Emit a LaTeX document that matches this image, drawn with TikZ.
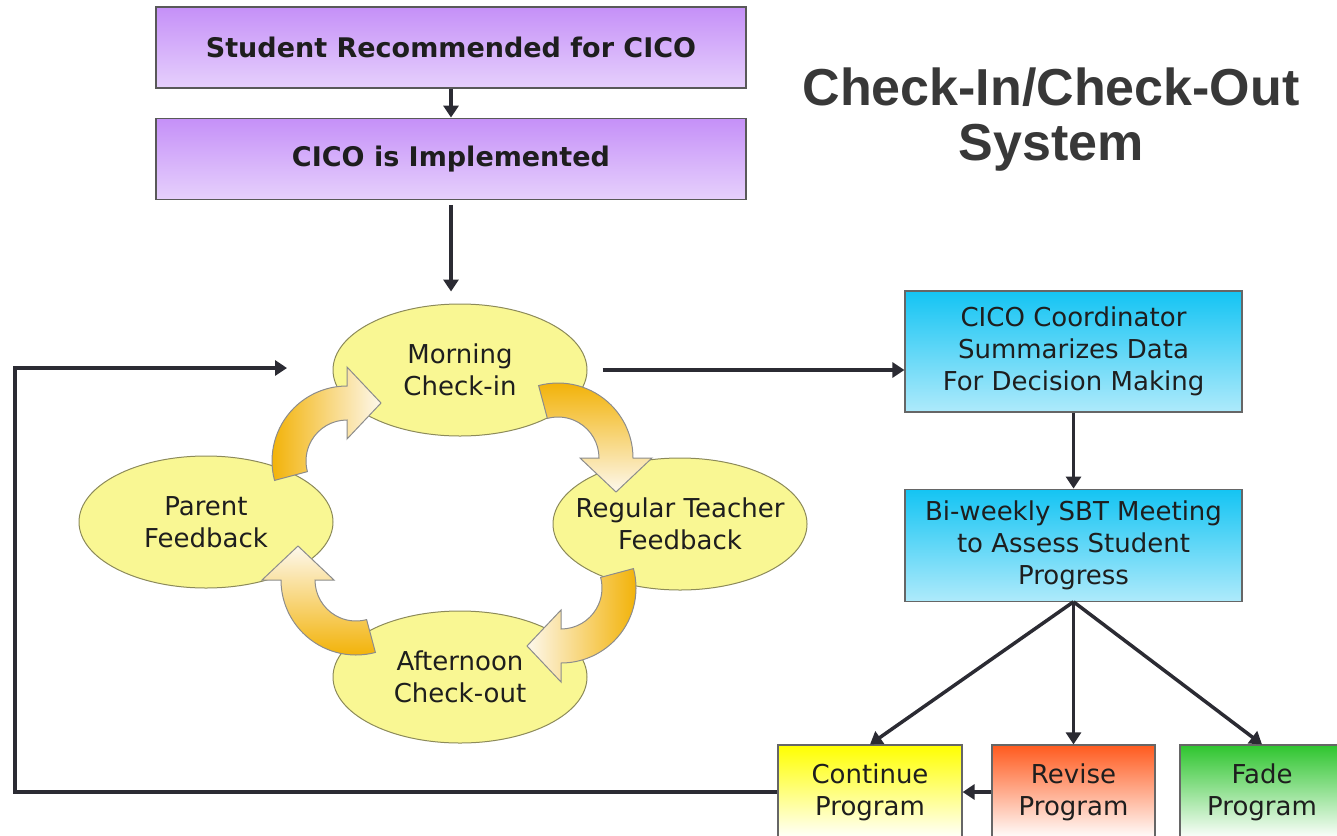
\documentclass[tikz,border=0pt]{standalone}
\usepackage{fontspec}
\setmainfont{DejaVu Sans}
\newfontfamily\titulo{Liberation Sans}
\usetikzlibrary{arrows.meta,shapes.geometric,positioning}
\definecolor{lila}{HTML}{C590F8}
\definecolor{lilaclaro}{HTML}{E6D0FC}
\definecolor{cian}{HTML}{14C4F3}
\definecolor{cianclaro}{HTML}{AEEAFB}
\definecolor{amarillo}{HTML}{F9F793}
\definecolor{olivo}{HTML}{8C8A5A}
\definecolor{naranja}{HTML}{F2B000}
\definecolor{crema}{HTML}{FDF8EC}
\definecolor{oscuro}{HTML}{2B2B33}
\definecolor{rojo}{HTML}{FF5A1E}
\definecolor{verde}{HTML}{2EC52E}
\definecolor{gris}{HTML}{383838}
\definecolor{tinta}{HTML}{1E1E1E}

\begin{document}
\begin{tikzpicture}[x=1pt,y=1pt,>={Triangle[length=12pt,width=15pt]},
  flecha/.style={->,draw=oscuro,line width=3.5pt},
  caja/.style={draw=black!65,line width=1.2pt,minimum width=590pt,minimum height=81pt,
    top color=lila,bottom color=lilaclaro,text=tinta,font=\fontsize{27}{32}\selectfont\bfseries},
  elipse/.style={ellipse,draw=olivo,line width=1pt,fill=amarillo,minimum width=254pt,
    minimum height=132pt,inner xsep=-45pt,inner ysep=0pt,align=center,text=tinta,
    font=\fontsize{26}{32}\selectfont},
  azul/.style={draw=black!60,line width=1.2pt,minimum width=337pt,inner sep=4pt,
    top color=cian,bottom color=cianclaro,align=center,text=tinta,
    font=\fontsize{26}{32}\selectfont},
  fin/.style={draw=black!60,line width=1.2pt,minimum height=94pt,inner sep=4pt,
    align=center,text=tinta,font=\fontsize{26}{32}\selectfont},
  curva/.style={draw=black!45,line width=1pt,top color=naranja,bottom color=crema}]
  \useasboundingbox (0,0) rectangle (1337,-835);
  \clip (0,0) rectangle (1337,-835);
  % titulo
  \node[font=\titulo\fontsize{52}{55}\selectfont\bfseries,text=gris,align=center]
    (tit) at (1051,-120) {Check-In/Check-Out\\System};
  % cajas de arriba
  \node[caja] (est) at (451,-47.5) {Student Recommended for CICO};
  \node[caja,below=29pt of est] (impl) {CICO is Implemented};
  % ciclo diario
  \node[elipse] (man) at (460,-370) {Morning\\Check-in};
  \node[elipse] (prof) at (680,-524) {Regular Teacher\\Feedback};
  \node[elipse] (tarde) at (460,-677) {Afternoon\\Check-out};
  \node[elipse] (padres) at (206,-522) {Parent\\Feedback};
  % flechas curvas del ciclo
  \foreach \cx/\cy/\r in {558/-458/0,561/-588/-90,356/-580/180,347/-461/90}
    \draw[curva,shading angle=\r,shift={(\cx,\cy)},rotate=\r]
      (105:75) arc[start angle=105,end angle=0,radius=75] -- (0:94) -- (58,-34)
      -- (0:22) -- (0:41) arc[start angle=0,end angle=105,radius=41] -- cycle;
  % decisiones
  \node[azul,minimum height=121pt] (coord) at (1073.5,-351.5)
    {CICO Coordinator\\Summarizes Data\\For Decision Making};
  \node[azul,minimum height=112pt,below=76pt of coord] (sbt)
    {Bi-weekly SBT Meeting\\to Assess Student\\Progress};
  \node[fin,top color=yellow,bottom color=white,minimum width=184pt] (cont)
    at (870,-792) {Continue\\Program};
  \node[fin,top color=rojo,bottom color=white,minimum width=163pt] (rev)
    at (1073.5,-792) {Revise\\Program};
  \node[fin,top color=verde,bottom color=white,minimum width=164pt] (fade)
    at (1262,-792) {Fade\\Program};
  % conectores
  \draw[flecha] (est) -- (impl);
  \draw[flecha,shorten <=5pt,shorten >=12pt] (impl.south) -- (impl.south |- man.north);
  \draw[flecha,shorten <=15pt] (man.east) -- (man.east -| coord.west);
  \draw[flecha] (coord) -- (sbt);
  \draw[flecha] (sbt.south) -- (cont.north);
  \draw[flecha] (sbt.south) -- (rev.north);
  \draw[flecha] (sbt.south) -- (fade.north);
  \draw[flecha] (rev) -- (cont);
  % vuelta al inicio
  \coordinate (esq) at (15,-368);
  \coordinate (retorno) at (287,-368);
  \draw[flecha] (cont.west) -| (esq) -- (retorno);
\end{tikzpicture}
\end{document}
